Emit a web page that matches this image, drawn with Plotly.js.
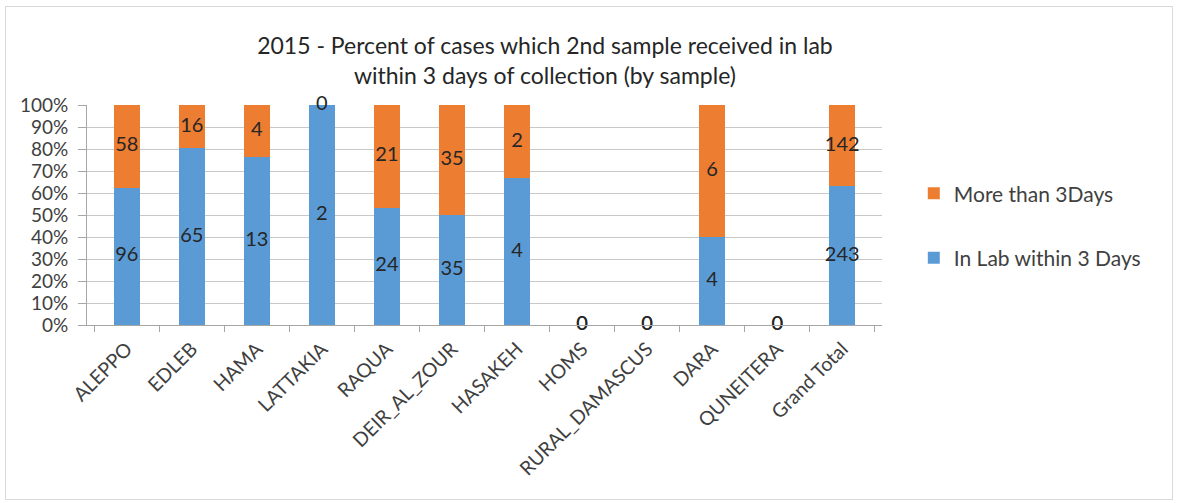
<!DOCTYPE html>
<html>
<head>
<meta charset="utf-8">
<script src="https://cdn.plot.ly/plotly-3.0.1.min.js"></script>
<style>
html,body{margin:0;padding:0;background:#fff;}
#frame{position:absolute;left:5px;top:6px;width:1166px;height:492px;border:1px solid #d9d9d9;}
#chart{position:absolute;left:0;top:0;width:1177px;height:503px;}
</style>
</head>
<body>
<div id="frame"></div>
<div id="chart"></div>
<script>
const categories = ["ALEPPO","EDLEB","HAMA","LATTAKIA","RAQUA","DEIR_AL_ZOUR","HASAKEH","HOMS","RURAL_DAMASCUS","DARA","QUNEITERA","Grand Total"];
const inLab = [96, 65, 13, 2, 24, 35, 4, 0, 0, 4, 0, 243];
const moreThan3 = [58, 16, 4, 0, 21, 35, 2, 0, 0, 6, 0, 142];

const blue = "#5B9BD5", orange = "#ED7D31";
const fontFam = "Lato, 'Open Sans', sans-serif";

const totals = inLab.map((v,i)=>v+moreThan3[i]);
const pctBlue = inLab.map((v,i)=>totals[i] ? v/totals[i]*100 : 0);
const pctOrange = moreThan3.map((v,i)=>totals[i] ? v/totals[i]*100 : 0);
const midBlue = pctBlue.map(p=>p/2);
const midOrange = pctBlue.map((p,i)=>totals[i] ? p + pctOrange[i]/2 : 0);

const traces = [
  {type:"bar", x:categories, y:inLab, name:"In Lab within 3 Days", marker:{color:blue}, legendgroup:"lab", legendrank:2, hoverinfo:"skip"},
  {type:"bar", x:categories, y:moreThan3, name:"More than 3Days", marker:{color:orange}, legendgroup:"more", legendrank:1, hoverinfo:"skip"},
  {type:"scatter", mode:"text", x:categories, y:midBlue, text:inLab.map(String), textposition:"middle center",
   textfont:{family:fontFam, size:20, color:"#262626"}, showlegend:false, cliponaxis:false, hoverinfo:"skip"},
  {type:"scatter", mode:"text", x:categories, y:midOrange, text:moreThan3.map(String), textposition:"middle center",
   textfont:{family:fontFam, size:20, color:"#262626"}, showlegend:false, cliponaxis:false, hoverinfo:"skip"}
];

const layout = {
  width:1177, height:503,
  paper_bgcolor:"rgba(0,0,0,0)", plot_bgcolor:"rgba(0,0,0,0)",
  margin:{l:87, r:295, t:105, b:178},
  barmode:"stack", barnorm:"percent", bargap:0.6,
  font:{family:fontFam, color:"#404040"},
  title:{text:"2015 - Percent of cases which 2nd sample received in lab<br>within 3 days of collection (by sample)",
         font:{family:fontFam, size:23, color:"#262626"}, x:0.463, xanchor:"center", y:0.892, yanchor:"top"},
  xaxis:{type:"category", tickangle:-45, tickfont:{family:fontFam, size:19.5, color:"#404040"}, automargin:false,
         ticks:"outside", tickson:"boundaries", ticklen:6, tickcolor:"#a6a6a6", ticklabelstandoff:4,
         showline:true, linecolor:"#a6a6a6", showgrid:false, fixedrange:true},
  yaxis:{range:[0,100], dtick:10, ticksuffix:"%", tickfont:{family:fontFam, size:19, color:"#404040"}, automargin:false,
         showgrid:true, gridcolor:"#c8c8c8", showline:true, linecolor:"#a6a6a6", ticklabelstandoff:6,
         ticks:"outside", ticklen:8, tickcolor:"#a6a6a6", zeroline:false, fixedrange:true},
  legend:{x:1.04, xanchor:"left", y:0.69, yanchor:"top", traceorder:"grouped", tracegroupgap:34,
          itemwidth:30, font:{family:fontFam, size:21, color:"#404040"}, bgcolor:"rgba(0,0,0,0)"},
  showlegend:true
};

Plotly.newPlot("chart", traces, layout, {staticPlot:true});
</script>
</body>
</html>
